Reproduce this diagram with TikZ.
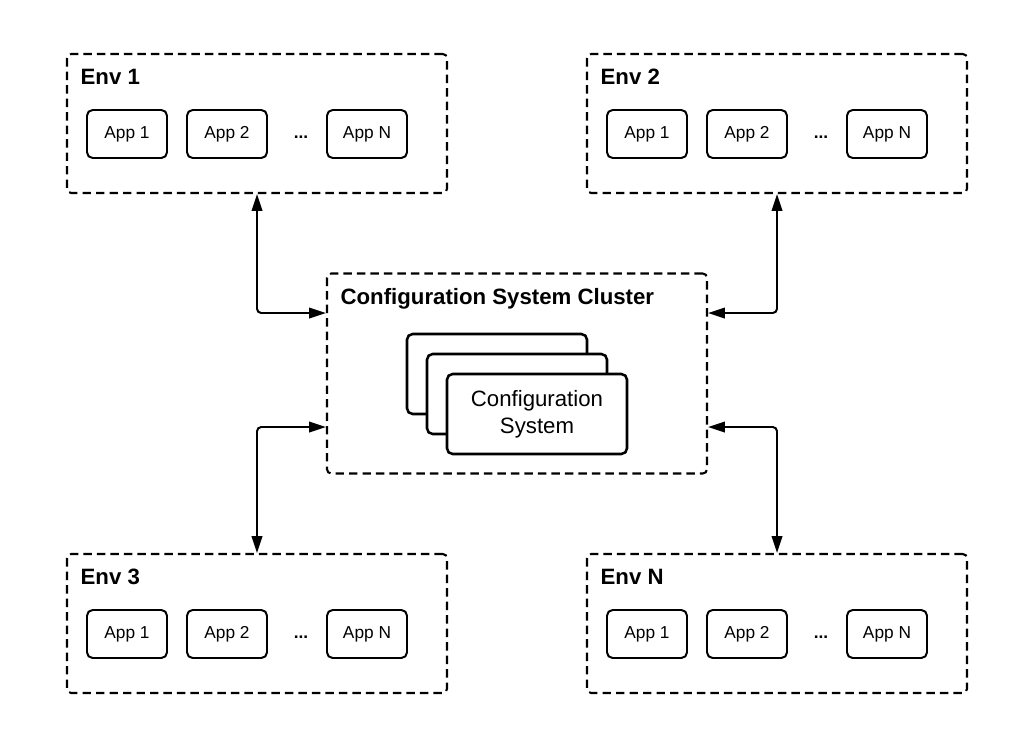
\documentclass[tikz,border=0pt]{standalone}
\usepackage{fontspec}
\setmainfont{Liberation Sans}
\usetikzlibrary{arrows.meta,positioning}

\tikzset{
	envbox/.style={draw,dashed,dash pattern=on 6pt off 3.6pt,line width=1.5pt,rounded corners=3pt,minimum width=9.5cm,minimum height=3.475cm},
	appbox/.style={draw,line width=1.4pt,rounded corners=4pt,minimum width=2cm,minimum height=1.2cm,font=\fontsize{12.3}{14}\selectfont},
	stackbox/.style={draw,fill=white,line width=1.8pt,rounded corners=4pt,minimum width=4.5cm,minimum height=2cm},
	title/.style={inner sep=0pt,anchor=base west,font=\bfseries\fontsize{15.8}{18}\selectfont},
	conn/.style={<->,>={Triangle[length=12pt,width=7.5pt]},line width=1.4pt,rounded corners=3pt}
}

\begin{document}
\begin{tikzpicture}
	\fill[white] (0,0) rectangle (25.85,-18.7);
	\foreach \e/\x/\y/\t in {1/6.425/-3.0875/Env 1, 2/19.425/-3.0875/Env 2, 3/6.425/-15.5875/Env 3, N/19.425/-15.5875/Env N} {
		\node[envbox] (E\e) at (\x,\y) {};
		\node[title] at ([xshift=0.36cm,yshift=-0.8cm]E\e.north west) {\t};
		\foreach \a/\dx [count=\n] in {App 1/-3.25, App 2/-0.75, App N/2.75}
			\node[appbox] (E\e A\n) at ([xshift=\dx cm,yshift=-0.2625cm]E\e.center) {\a};
		\node[anchor=base,font=\bfseries\fontsize{12.3}{14}\selectfont] (E\e D) at ([xshift=1.85cm]E\e A2.base) {...};
	}

	\node[envbox,minimum height=5cm] (C) at (12.925,-9.3375) {};
	\node[title] at ([xshift=0.36cm,yshift=-0.8cm]C.north west) {Configuration System Cluster};
	\node[stackbox] (S1) at (12.425,-9.35) {};
	\node[stackbox] (S2) at (12.925,-9.85) {};
	\node[stackbox,align=center,font=\fontsize{15.8}{19}\selectfont] (S3) at (13.425,-10.35) {Configuration\\System};

	\draw[conn] (E1.south) |- ([yshift=1.5125cm]C.west);
	\draw[conn] (E3.north) |- ([yshift=-1.3375cm]C.west);
	\draw[conn] (E2.south) |- ([yshift=1.5125cm]C.east);
	\draw[conn] (EN.north) |- ([yshift=-1.3375cm]C.east);
\end{tikzpicture}
\end{document}
